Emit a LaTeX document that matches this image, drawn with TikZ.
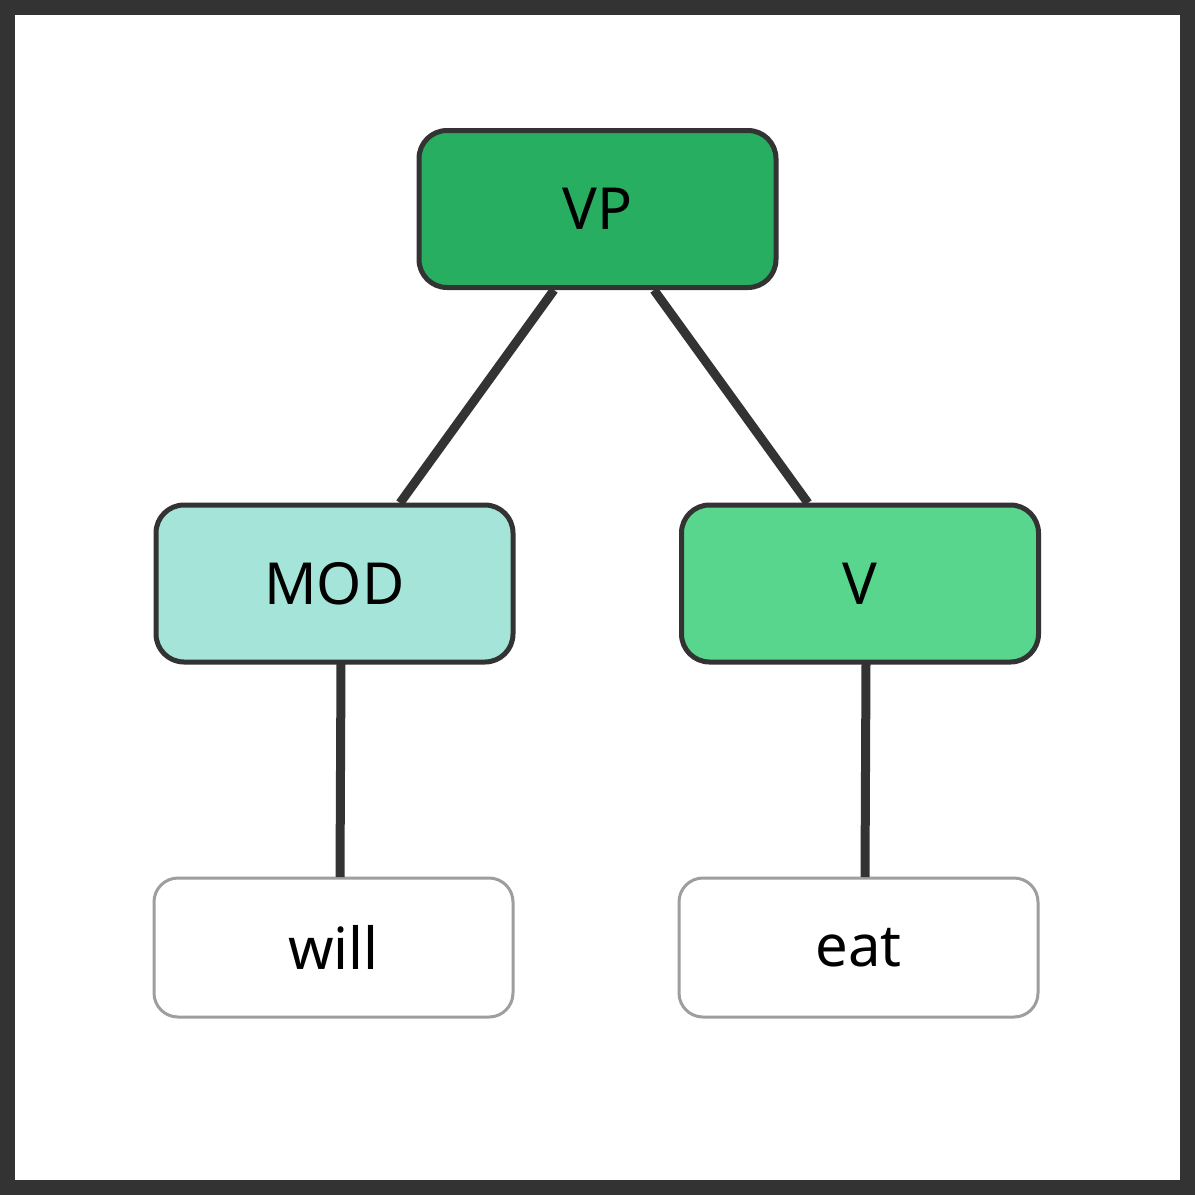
\documentclass[tikz,border=0pt]{standalone}
\usepackage{fontspec}
\setmainfont{Noto Sans}
\definecolor{edge}{HTML}{333333}
\definecolor{vpc}{HTML}{27AE60}
\definecolor{modc}{HTML}{A5E5D9}
\definecolor{vc}{HTML}{58D68D}
\definecolor{leafb}{HTML}{9E9E9E}
\begin{document}
\begin{tikzpicture}[x=1pt,y=-1pt,
  cat/.style={draw=edge,line width=5pt,rounded corners=28pt,minimum width=357pt,minimum height=157pt,inner sep=0pt,font=\fontsize{58}{60}\selectfont\bfseries},
  leaf/.style={draw=leafb,fill=white,line width=3pt,rounded corners=24pt,minimum width=359pt,minimum height=139pt,inner sep=0pt,font=\fontsize{58}{60}\selectfont},
  conn/.style={draw=edge,line width=9pt}]
\fill[edge] (0,0) rectangle (1195,1195);
\fill[white] (15,15) rectangle (1180,1180);
\node[cat,fill=vpc] (VP) at (597.5,209) {VP};
\node[cat,fill=modc] (MOD) at (334.5,583.5) {MOD};
\node[cat,fill=vc] (V) at (860,583.5) {V};
\node[leaf] (will) at (333.5,947.5) {will};
\node[leaf] (eat) at (858.5,947.5) {eat};
\begin{scope}[on background layer/.style={}]
\end{scope}
\coordinate (a1) at (554,290); \coordinate (a2) at (400,503);
\coordinate (b1) at (654,290); \coordinate (b2) at (808,503);
\coordinate (c1) at (341,664); \coordinate (c2) at (340,877);
\coordinate (d1) at (866,664); \coordinate (d2) at (865,877);
\draw[conn] (a1) -- (a2);
\draw[conn] (b1) -- (b2);
\draw[conn] (c1) -- (c2);
\draw[conn] (d1) -- (d2);
\end{tikzpicture}
\end{document}
